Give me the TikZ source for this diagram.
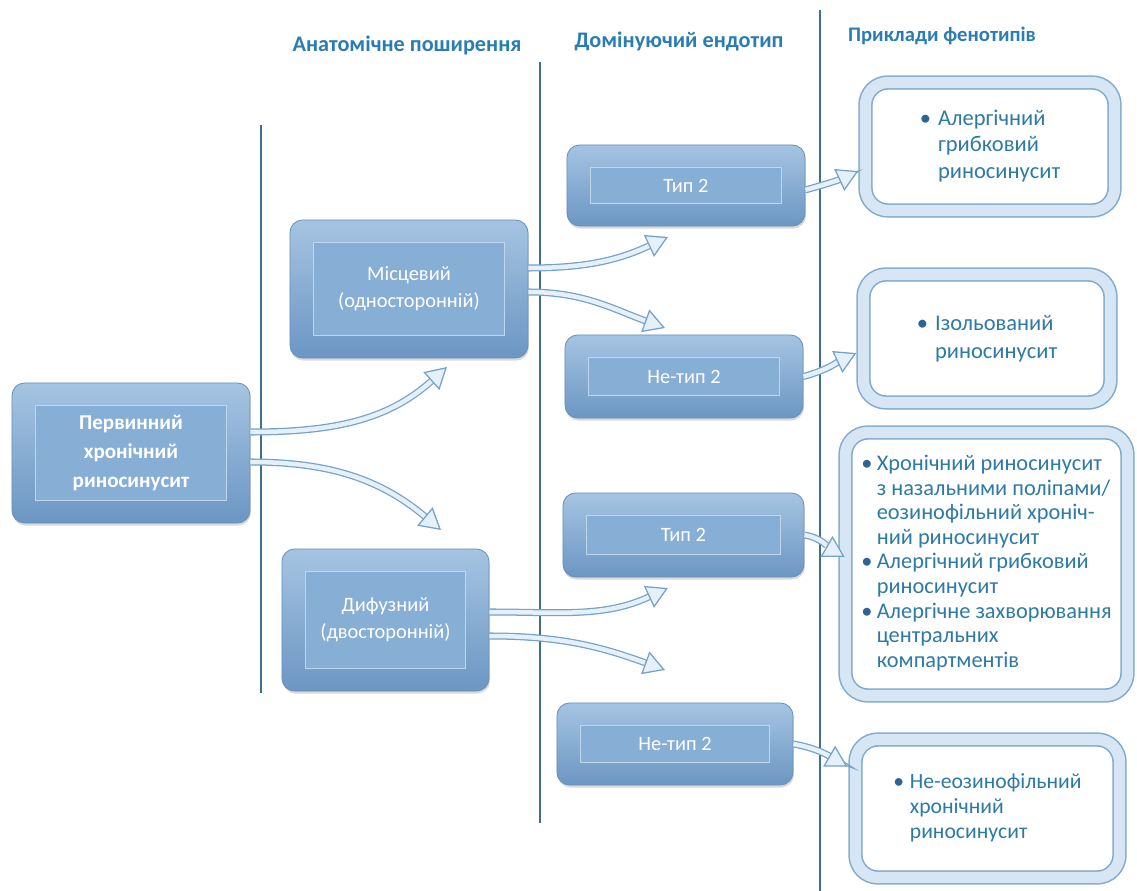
\documentclass[tikz,border=0pt]{standalone}
\usepackage{fontspec}
\setmainfont{Carlito}
\usetikzlibrary{arrows.meta,shadows}

\definecolor{divline}{RGB}{62,112,142}
\definecolor{headblue}{RGB}{42,125,180}
\definecolor{boxtop}{RGB}{165,196,226}
\definecolor{boxmid}{RGB}{135,174,212}
\definecolor{boxbot}{RGB}{108,150,195}
\definecolor{boxedge}{RGB}{105,145,188}
\definecolor{innerline}{RGB}{192,214,236}
\definecolor{phedge}{RGB}{130,170,205}
\definecolor{phband}{RGB}{214,230,244}
\definecolor{phtext}{RGB}{45,122,165}
\definecolor{bulletblue}{RGB}{45,100,150}
\definecolor{flowedge}{RGB}{118,162,200}
\definecolor{flowfill}{RGB}{228,240,250}

\newcommand{\phitem}{\textcolor{bulletblue}{•}}

\begin{document}
\begin{tikzpicture}[x=0.025cm,y=0.025cm,
	header/.style={text=headblue,font=\fontsize{15.8}{18}\selectfont\bfseries},
	divider/.style={draw=divline,line width=0.8pt},
	bluebox/.style={rounded corners=9pt,draw=boxedge,line width=0.6pt,top color=boxtop,bottom color=boxbot,
		text=white,align=center,font=\fontsize{14.5}{19}\selectfont,
		drop shadow={shadow xshift=0.6pt,shadow yshift=-1.8pt,opacity=0.3},
		path picture={\draw[sharp corners,innerline,line width=0.7pt,fill=boxmid] ([shift={(0.6cm,-0.57cm)}]path picture bounding box.north west) rectangle ([shift={(-0.6cm,0.57cm)}]path picture bounding box.south east);}},
	phenobox/.style={rounded corners=16pt,draw=phedge,line width=1.1pt,double=phband,double distance=8pt,fill=white,
		text=phtext,align=left,font=\fontsize{16}{19}\selectfont},
	flow/.style={draw=flowedge,line width=0.9pt,double=flowfill,double distance=3.2pt,
		-{Triangle[length=15pt,width=17pt,fill=flowfill]}}]
	% page frame
	\useasboundingbox (0,0) rectangle (1137,-891);

	% column dividers and headings
	\draw[divider] (261,-125) -- (261,-693);
	\draw[divider] (540,-62) -- (540,-823);
	\draw[divider] (820,-10) -- (820,-891);
	\node[header] (AnatHead) at (407,-45) {Анатомічне поширення};
	\node[header] (EndoHead) at (679,-42) {Домінуючий ендотип};
	\node[header,font=\fontsize{14.7}{18}\selectfont\bfseries] (PhenoHead) at (942,-36) {Приклади фенотипів};

	% blue boxes
	\node[bluebox,font=\fontsize{15}{20.5}\selectfont\bfseries,minimum width=5.95cm,minimum height=3.5cm] (Primary) at (131,-453) {Первинний\\хронічний\\риносинусит};
	\node[bluebox,minimum width=5.95cm,minimum height=3.45cm] (Local) at (409,-289) {Місцевий\\(односторонній)};
	\node[bluebox,minimum width=5.175cm,minimum height=3.55cm] (Diffuse) at (385.5,-620) {Дифузний\\(двосторонній)};
	\node[bluebox,minimum width=5.95cm,minimum height=2.025cm] (TypeLocal) at (686,-185.5) {Тип 2};
	\node[bluebox,minimum width=5.95cm,minimum height=2.075cm] (NonTypeLocal) at (684,-376.5) {Не-тип 2};
	\node[bluebox,minimum width=6.025cm,minimum height=2.1cm] (TypeDiffuse) at (683.5,-535) {Тип 2};
	\node[bluebox,minimum width=5.9cm,minimum height=2.05cm] (NonTypeDiffuse) at (675,-744) {Не-тип 2};

	% phenotype boxes
	\node[phenobox,minimum width=6.225cm,minimum height=3.2cm] (AllergicFungal) at (990,-146.5)
		{\begin{tabular}{@{}c@{\hspace{5pt}}l@{}}\phitem & Алергічний\\ & грибковий\\ & риносинусит\end{tabular}};
	\node[phenobox,font=\fontsize{16}{20}\selectfont,minimum width=6.175cm,minimum height=3.2cm] (Isolated) at (987,-338.5)
		{\begin{tabular}{@{}c@{\hspace{5pt}}l@{}}\phitem & Ізольований\\ & риносинусит\end{tabular}};
	\node[phenobox,font=\fontsize{15.9}{17.5}\selectfont,minimum width=7.05cm,minimum height=6.575cm] (Polyps) at (986.5,-564)
		{\begin{tabular}{@{}c@{\hspace{3pt}}l@{}}\phitem & Хронічний риносинусит\\ & з назальними поліпами/\\ & еозинофільний хроніч-\\ & ний риносинусит\\
		\phitem & Алергічний грибковий\\ & риносинусит\\ \phitem & Алергічне захворювання\\ & центральних\\ & компартментів\end{tabular}};
	\node[phenobox,font=\fontsize{15.4}{17.8}\selectfont,minimum width=6.6cm,minimum height=3.45cm] (NonEosin) at (987.5,-808.5)
		{\begin{tabular}{@{}c@{\hspace{4pt}}l@{}}\phitem & Не-еозинофільний\\ & хронічний\\ & риносинусит\end{tabular}};

	% free arrow ends
	\coordinate (toLocal) at (447,-367);
	\coordinate (toDiffuse) at (441,-530);
	\coordinate (toTypeLocal) at (668,-237);
	\coordinate (toNonTypeLocal) at (665,-328);
	\coordinate (toTypeDiffuse) at (668,-588);
	\coordinate (toNonTypeDiffuse) at (665,-670);

	\draw[flow] ([yshift=0.525cm]Primary.east) to[out=0,in=222] (toLocal);
	\draw[flow] ([yshift=-0.225cm]Primary.east) to[out=0,in=140] (toDiffuse);
	\draw[flow] ([yshift=0.525cm]Local.east) to[out=0,in=205] (toTypeLocal);
	\draw[flow] ([yshift=-0.075cm]Local.east) to[out=0,in=160] (toNonTypeLocal);
	\draw[flow] ([yshift=0.2cm]Diffuse.east) to[out=0,in=205] (toTypeDiffuse);
	\draw[flow] ([yshift=-0.4cm]Diffuse.east) to[out=0,in=160] (toNonTypeDiffuse);
	\draw[flow,shorten >=5pt] ([yshift=-0.11cm]TypeLocal.east) to[out=15,in=205] ([yshift=-0.54cm]AllergicFungal.west);
	\draw[flow,shorten >=5pt] (NonTypeLocal.east) to[out=15,in=205] ([yshift=-0.29cm]Isolated.west);
	\draw[flow] (TypeDiffuse.east) to[out=-10,in=150] ([yshift=0.175cm]Polyps.west);
	\draw[flow,shorten >=6pt] (NonTypeDiffuse.east) to[out=-10,in=150] ([yshift=0.94cm]NonEosin.west);
\end{tikzpicture}
\end{document}
